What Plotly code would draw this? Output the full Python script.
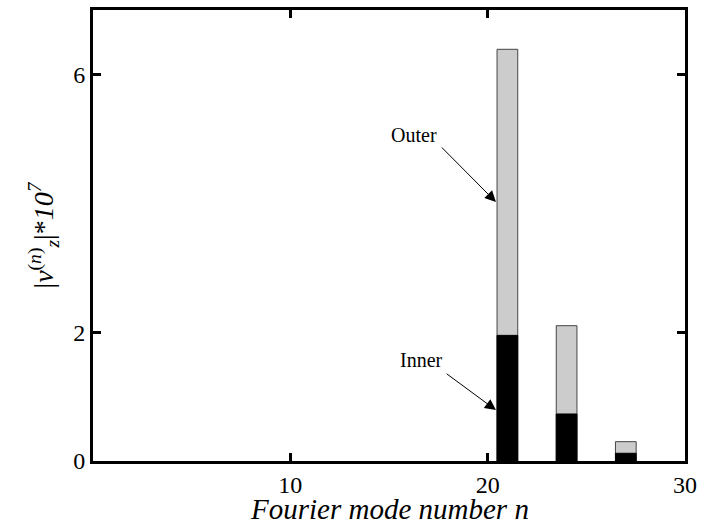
import plotly.graph_objects as go

# Fourier modes and the amplitude of each (in units of 1e-7)
modes = [21, 24, 27]
outer_amp = [6.39, 2.10, 0.30]
inner_amp = [1.95, 0.73, 0.12]

x_ticks = [10, 20, 30]
y_ticks = [0, 2, 6]

serif = "Liberation Serif, Times New Roman, serif"

fig = go.Figure()
fig.add_trace(go.Bar(
    x=modes, y=outer_amp, width=1.05, name="Outer",
    marker=dict(color="#cccccc", line=dict(color="#444444", width=1)),
))
fig.add_trace(go.Bar(
    x=modes, y=inner_amp, width=1.05, name="Inner",
    marker=dict(color="black", line=dict(color="black", width=1)),
))

axis_common = dict(
    showline=True, linecolor="black", linewidth=3, mirror="allticks",
    ticks="inside", ticklen=8, tickwidth=3, tickcolor="black",
    showgrid=False, zeroline=False,
    tickfont=dict(family=serif, size=24, color="black"),
)

fig.update_layout(
    width=704, height=527,
    margin=dict(l=93, r=16, t=7, b=66),
    paper_bgcolor="white", plot_bgcolor="white",
    barmode="overlay", showlegend=False,
    xaxis=dict(range=[0, 30], tickvals=x_ticks, ticktext=[str(v) for v in x_ticks],
               **axis_common),
    yaxis=dict(range=[0, 7], tickvals=y_ticks, ticktext=[str(v) for v in y_ticks],
               title=dict(text="|<i>v</i><sup>(<i>n</i>)</sup><sub><i>z</i></sub>|*<i>10</i><sup><i>7</i></sup>",
                          standoff=12,
                          font=dict(family=serif, size=28, color="black")),
               **axis_common),
)

# x-axis title, sitting on the bottom edge of the figure
fig.add_annotation(x=0.5, y=-66 / 454, xref="paper", yref="paper", yanchor="bottom",
                   text="<i>Fourier mode number n</i>", showarrow=False,
                   font=dict(family=serif, size=29, color="black"))

label_font = dict(family=serif, size=20, color="black")
# labels
fig.add_annotation(x=16.29, y=5.06, text="Outer", showarrow=False, font=label_font)
fig.add_annotation(x=16.64, y=1.56, text="Inner", showarrow=False, font=label_font)
# pointer arrows to the n=21 bar
fig.add_annotation(x=20.42, y=4.02, ax=17.6, ay=4.89, axref="x", ayref="y",
                   text="", showarrow=True, arrowhead=2, arrowsize=2.2,
                   arrowwidth=1, arrowcolor="black")
fig.add_annotation(x=20.42, y=0.79, ax=17.85, ay=1.37, axref="x", ayref="y",
                   text="", showarrow=True, arrowhead=2, arrowsize=2.2,
                   arrowwidth=1, arrowcolor="black")

fig.write_html("out.html")
